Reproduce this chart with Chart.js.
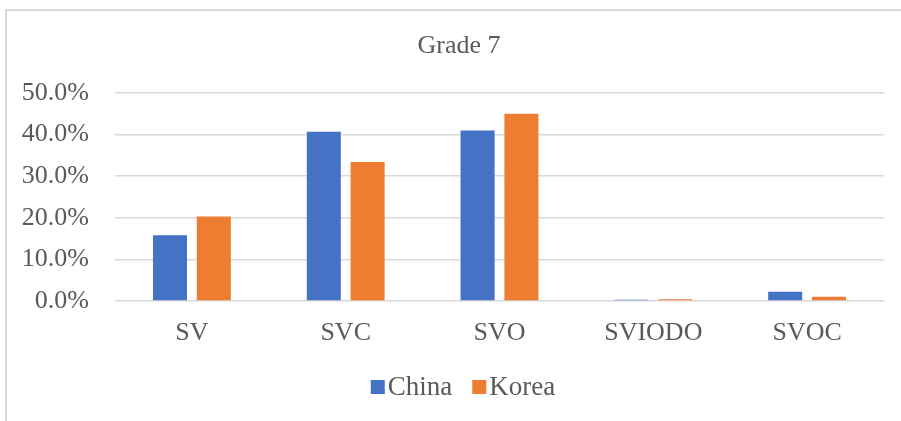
<!DOCTYPE html>
<html>
<head>
<meta charset="utf-8">
<title>Grade 7</title>
<script src="https://cdn.jsdelivr.net/npm/chart.js@4.4.1/dist/chart.umd.min.js"></script>
<style>
    html, body {
        margin: 0;
        padding: 0;
        background: #ffffff;
        overflow: hidden;
        width: 901px;
        height: 421px;
    }
    .frame {
        position: absolute;
        left: 5px;
        top: 9px;
        width: 940px;
        height: 440px;
        border-left: 2px solid #d9d9d9;
        border-top: 2px solid #d9d9d9;
    }
    .wrap {
        position: absolute;
        left: 0;
        top: 0;
        width: 920px;
        height: 421px;
    }
</style>
</head>
<body>
<div class="frame"></div>
<div class="wrap"><canvas id="chartGrade"></canvas></div>
<script>
// Sentence pattern shares (percent) for grade 7
const categories = ['SV', 'SVC', 'SVO', 'SVIODO', 'SVOC'];
const chinaValues = [15.8, 40.7, 41.0, 0.3, 2.2];
const koreaValues = [20.3, 33.4, 45.0, 0.4, 1.0];
const yTicks = [0, 10, 20, 30, 40, 50];
const chartTitle = 'Grade 7';

const FONT = '"Liberation Serif", "Times New Roman", serif';
const TEXT_COLOR = '#595959';

// title and legend drawn by hand so they center on the whole frame,
// legend uses small squares with tight spacing
const frameDecor = {
    id: 'frameDecor',
    afterDraw: function (chart) {
        const ctx = chart.ctx;
        const cx = chart.width / 2;
        ctx.save();

        ctx.font = '26px ' + FONT;
        ctx.fillStyle = TEXT_COLOR;
        ctx.textAlign = 'center';
        ctx.textBaseline = 'middle';
        ctx.fillText(chartTitle, cx - 1, 46);

        const box = 14;
        const gap = 3;
        const spacing = 20;
        ctx.font = '27px ' + FONT;
        ctx.textAlign = 'left';
        const items = chart.data.datasets.map(function (ds) {
            return { text: ds.label, color: ds.backgroundColor, w: ctx.measureText(ds.label).width };
        });
        let total = spacing * (items.length - 1);
        items.forEach(function (it) { total += box + gap + it.w; });
        let x = cx - total / 2 + 3;
        const y = 387;
        items.forEach(function (it) {
            ctx.fillStyle = it.color;
            ctx.fillRect(x, y - box / 2, box, box);
            x += box + gap;
            ctx.fillStyle = TEXT_COLOR;
            ctx.fillText(it.text, x, y + 1);
            x += it.w + spacing;
        });
        ctx.restore();
    }
};

const ctxGrade = document.getElementById('chartGrade');

new Chart(ctxGrade, {
    type: 'bar',
    data: {
        labels: categories,
        datasets: [{
            label: 'China',
            data: chinaValues,
            backgroundColor: '#4472c4',
            categoryPercentage: 0.57,
            barPercentage: 0.776
        }, {
            label: 'Korea',
            data: koreaValues,
            backgroundColor: '#ed7d31',
            categoryPercentage: 0.57,
            barPercentage: 0.776
        }]
    },
    options: {
        responsive: true,
        maintainAspectRatio: false,
        animation: false,
        layout: {
            padding: { left: 10, right: 36, top: 93, bottom: 0 }
        },
        plugins: {
            legend: { display: false },
            tooltip: { enabled: false },
            title: { display: false }
        },
        scales: {
            y: {
                min: 0,
                max: 50,
                afterBuildTicks: function (axis) {
                    axis.ticks = yTicks.map(function (v) { return { value: v }; });
                },
                afterFit: function (axis) { axis.width = 105; },
                ticks: {
                    padding: 26,
                    color: TEXT_COLOR,
                    font: { family: FONT, size: 26 },
                    callback: function (value) { return value.toFixed(1) + '%'; }
                },
                grid: {
                    color: '#d9d9d9',
                    lineWidth: 1.5,
                    drawTicks: false
                },
                border: { display: false }
            },
            x: {
                afterFit: function (axis) { axis.height = 120; },
                ticks: {
                    padding: 9,
                    color: TEXT_COLOR,
                    font: { family: FONT, size: 26 }
                },
                grid: { display: false },
                border: { display: false }
            }
        }
    },
    plugins: [frameDecor]
});
</script>
</body>
</html>
